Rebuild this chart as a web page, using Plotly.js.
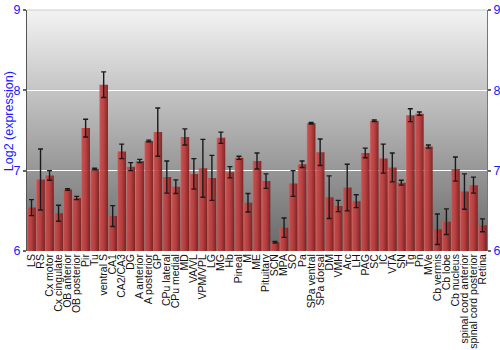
<!DOCTYPE html>
<html>
<head>
<meta charset="utf-8">
<script src="https://cdn.plot.ly/plotly-3.0.1.min.js"></script>
<style>
html,body{margin:0;padding:0;background:#fff;}
#chart{width:500px;height:350px;}
</style>
</head>
<body>
<div id="chart"></div>
<script>
const regions = ["LS","RS","Cx motor","Cx cingulate","OB anterior","OB posterior","Pir","Tu","ventral S","CA1","CA2/CA3","DG","A anterior","A posterior","GP","CPu lateral","CPu medial","MD","VA/VL","VPM/VPL","LG","MG","Hb","Pineal","M","ME","Pituitary","SCN","MPA","SO","Pa","SPa ventral","SPa dorsal","DM","VMH","Arc","LH","PAG","SC","IC","VTA","SN","Tg","Pn","MVe","Cb vermis","Cb lobe","Cb nucleus","spinal cord anterior","spinal cord posterior","Retina"];
const expression = [6.54,6.89,6.94,6.47,6.765,6.66,7.53,7.02,8.07,6.435,7.24,7.05,7.12,7.37,7.48,6.92,6.80,7.42,6.96,7.03,6.91,7.41,6.98,7.16,6.60,7.12,6.87,6.11,6.29,6.84,7.08,7.59,7.23,6.67,6.56,6.79,6.62,7.22,7.62,7.15,7.04,6.85,7.69,7.71,7.30,6.27,6.365,7.02,6.74,6.82,6.32];
const stdErr = [0.10,0.38,0.06,0.10,0.01,0.02,0.11,0.01,0.16,0.13,0.09,0.05,0.02,0.01,0.30,0.20,0.085,0.10,0.19,0.36,0.28,0.07,0.07,0.02,0.115,0.10,0.09,0.01,0.12,0.16,0.04,0.01,0.165,0.265,0.07,0.29,0.08,0.06,0.01,0.18,0.18,0.03,0.08,0.02,0.02,0.19,0.16,0.15,0.22,0.10,0.08];
const yTicks = [6,7,8,9];
const yTitle = 'Log2 (expression)';

const bars = {
  type:'bar', x:regions, y:expression, base:0,
  marker:{color:'#b83636', line:{width:0}},
  error_y:{type:'data', array:stdErr, visible:true, color:'#1a1a1a', thickness:1.4, width:2.5},
  hoverinfo:'skip'
};
const ghost = {
  type:'scatter', x:regions, y:expression, yaxis:'y2', mode:'lines',
  line:{width:0}, hoverinfo:'skip', showlegend:false
};
const layout = {
  width:500, height:350,
  margin:{l:27, r:13, t:10, b:99},
  paper_bgcolor:'#ffffff',
  plot_bgcolor:'#b0b0b0',
  showlegend:false,
  bargap:0.04,
  font:{family:'"Liberation Sans", Arial, sans-serif', size:12, color:'#000'},
  xaxis:{
    type:'category', tickmode:'array', tickvals:regions, ticktext:regions,
    tickangle:-90, tickfont:{size:10.5, color:'#111'},
    showgrid:false, ticks:'', ticklen:0, showline:false, zeroline:false, automargin:false,
    range:[-0.5, regions.length-0.5]
  },
  yaxis:{
    range:[6,9], tickvals:yTicks, ticktext:yTicks.map(String),
    tickfont:{size:12.5, color:'#1a1aff'},
    ticks:'outside', ticklen:3, tickcolor:'#666', tickwidth:2,
    showline:true, linecolor:'#555', linewidth:1,
    showgrid:true, gridcolor:'#ffffff', gridwidth:1.5,
    zeroline:false, automargin:false
  },
  yaxis2:{
    overlaying:'y', side:'right', range:[6,9], tickvals:yTicks, ticktext:yTicks.map(String),
    tickfont:{size:12.5, color:'#1a1aff'},
    ticks:'outside', ticklen:3, tickcolor:'#666', tickwidth:2,
    showline:true, linecolor:'#777', linewidth:1,
    showgrid:false, zeroline:false, automargin:false
  },
  annotations:[{
    text:yTitle, textangle:-90, xref:'paper', yref:'paper',
    x:-0.0405, y:0.54, xanchor:'center', yanchor:'middle', showarrow:false,
    bgcolor:'rgba(0,0,0,0)',
    font:{size:12.5, color:'#1a1aff'}
  }],
  shapes:[{type:'line', xref:'paper', yref:'paper', x0:0, x1:1, y0:1, y1:1, line:{color:'#cccccc', width:1}}]
};

Plotly.newPlot('chart', [bars, ghost], layout, {staticPlot:true}).then(function(gd){
  const svg = gd.querySelector('svg.main-svg');
  const NS = 'http://www.w3.org/2000/svg';
  let defs = svg.querySelector('defs');
  if(!defs){ defs = document.createElementNS(NS,'defs'); svg.insertBefore(defs, svg.firstChild); }
  function grad(id, horiz, stops){
    const g = document.createElementNS(NS,'linearGradient');
    g.setAttribute('id', id);
    g.setAttribute('x1','0'); g.setAttribute('y1','0');
    g.setAttribute('x2', horiz ? '1':'0'); g.setAttribute('y2', horiz ? '0':'1');
    stops.forEach(function(s){
      const st = document.createElementNS(NS,'stop');
      st.setAttribute('offset', s[0]);
      st.setAttribute('stop-color', s[1]);
      st.setAttribute('stop-opacity', s[2] == null ? 1 : s[2]);
      g.appendChild(st);
    });
    defs.appendChild(g);
  }
  grad('bgGrad', false, [[0,'#f3f3f3'],[1,'#686868']]);
  grad('barGrad', true, [[0,'#d06a6a',0.92],[0.14,'#c84848',0.92],[0.5,'#bb3a3a',0.92],[0.8,'#962828',0.92],[1,'#7c1c1c',0.92]]);
  gd.querySelectorAll('rect.bg').forEach(function(r){
    if (r.closest('.annotation')) return;
    r.style.fill = 'url(#bgGrad)'; r.style.fillOpacity = 1;
  });
  gd.querySelectorAll('.barlayer .point path').forEach(function(p){ p.style.fill = 'url(#barGrad)'; });
});
</script>
</body>
</html>
